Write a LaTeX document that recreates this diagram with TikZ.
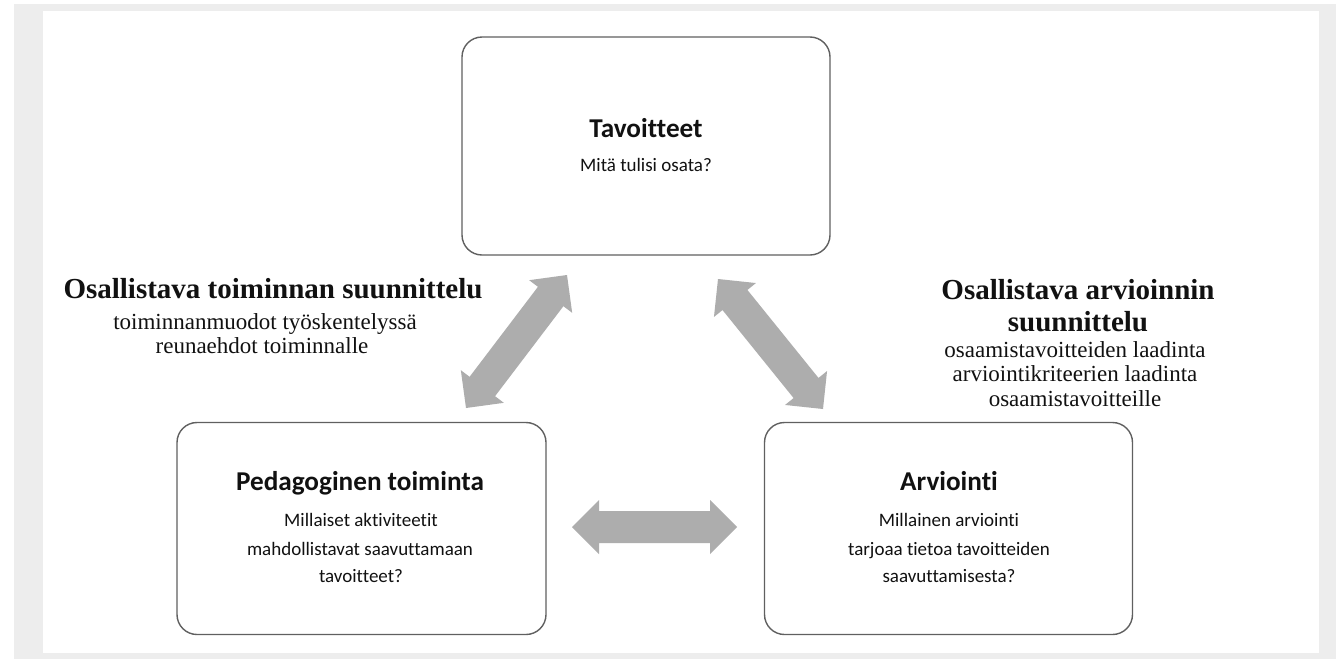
\documentclass[tikz,border=0pt]{standalone}
\usepackage{fontspec}
\setmainfont{Liberation Serif}
\newfontfamily\boxfont[Ligatures=NoCommon]{Carlito}
\usetikzlibrary{calc}
\definecolor{framegray}{HTML}{EDEDED}
\definecolor{arrowgray}{HTML}{ADADAD}
\definecolor{edgegray}{HTML}{606060}
\definecolor{inkcol}{HTML}{111111}
\tikzset{
  box/.style={draw=edgegray, line width=1.4pt, rounded corners=20pt, fill=white, inner sep=0pt},
  boxtitle/.style={anchor=base, inner sep=0pt, text=inkcol, font=\boxfont\fontsize{27.2}{30}\selectfont\bfseries},
  boxtext/.style={anchor=base, inner sep=0pt, text=inkcol, font=\boxfont\fontsize{19}{22}\selectfont},
  sidetitle/.style={anchor=base, inner sep=0pt, text=inkcol, font=\fontsize{29}{32}\selectfont\bfseries},
  sidetext/.style={anchor=base, inner sep=0pt, text=inkcol, font=\fontsize{23}{26}\selectfont},
}
\newcommand\dblarrow[2]{%
  \coordinate (h1) at ($(#1)!27pt!(#2)$);
  \coordinate (h2) at ($(#2)!27pt!(#1)$);
  \fill[arrowgray] (#1) -- ($(h1)!27pt!90:(#2)$) -- ($(h1)!16pt!90:(#2)$)
    -- ($(h2)!16pt!-90:(#1)$) -- ($(h2)!27pt!-90:(#1)$) -- (#2)
    -- ($(h2)!27pt!90:(#1)$) -- ($(h2)!16pt!90:(#1)$)
    -- ($(h1)!16pt!-90:(#2)$) -- ($(h1)!27pt!-90:(#2)$) -- cycle;}
\begin{document}
\begin{tikzpicture}[x=1pt,y=-1pt]
\useasboundingbox (0,0) rectangle (1344,659);
\fill[framegray] (14,4) rectangle (1336,659);
\fill[white] (43,11) rectangle (1319,653);

% boxes
\node[box, minimum width=368pt, minimum height=218pt] (tav) at (646,146) {};
\node[box, minimum width=369pt, minimum height=212pt] (ped) at (361.5,528.5) {};
\node[box, minimum width=368pt, minimum height=212pt] (arv) at (948.5,528.5) {};

% box texts
\node[boxtitle] (tavT) at (646,137) {Tavoitteet};
\node[boxtext] (tavA) at (646,171) {Mitä tulisi osata?};

\node[boxtitle] (pedT) at (360,490) {Pedagoginen toiminta};
\node[boxtext] (pedA) at (361,526) {Millaiset aktiviteetit};
\node[boxtext] (pedB) at (360,555) {mahdollistavat saavuttamaan};
\node[boxtext] (pedC) at (361,582) {tavoitteet?};

\node[boxtitle] (arvT) at (949,490) {Arviointi};
\node[boxtext] (arvA) at (949,526) {Millainen arviointi};
\node[boxtext] (arvB) at (949,555) {tarjoaa tietoa tavoitteiden};
\node[boxtext] (arvC) at (949,582) {saavuttamisesta?};

% side labels
\node[sidetitle] (lT) at (273,298) {Osallistava toiminnan suunnittelu};
\node[sidetext] (lA) at (265,329) {toiminnanmuodot työskentelyssä};
\node[sidetext] (lB) at (262,353) {reunaehdot toiminnalle};

\node[sidetitle] (rT) at (1078,299) {Osallistava arvioinnin};
\node[sidetitle] (rU) at (1078,331) {suunnittelu};
\node[sidetext] (rA) at (1075,357) {osaamistavoitteiden laadinta};
\node[sidetext] (rB) at (1075,381) {arviointikriteerien laadinta};
\node[sidetext] (rC) at (1075,406) {osaamistavoitteille};

% arrows
\coordinate (a1) at (466,408);
\coordinate (a2) at (567,275);
\coordinate (b1) at (718,279);
\coordinate (b2) at (823,409);
\coordinate (c1) at (572,527);
\coordinate (c2) at (737,527);
\dblarrow{a1}{a2}
\dblarrow{b1}{b2}
\dblarrow{c1}{c2}
\end{tikzpicture}
\end{document}
